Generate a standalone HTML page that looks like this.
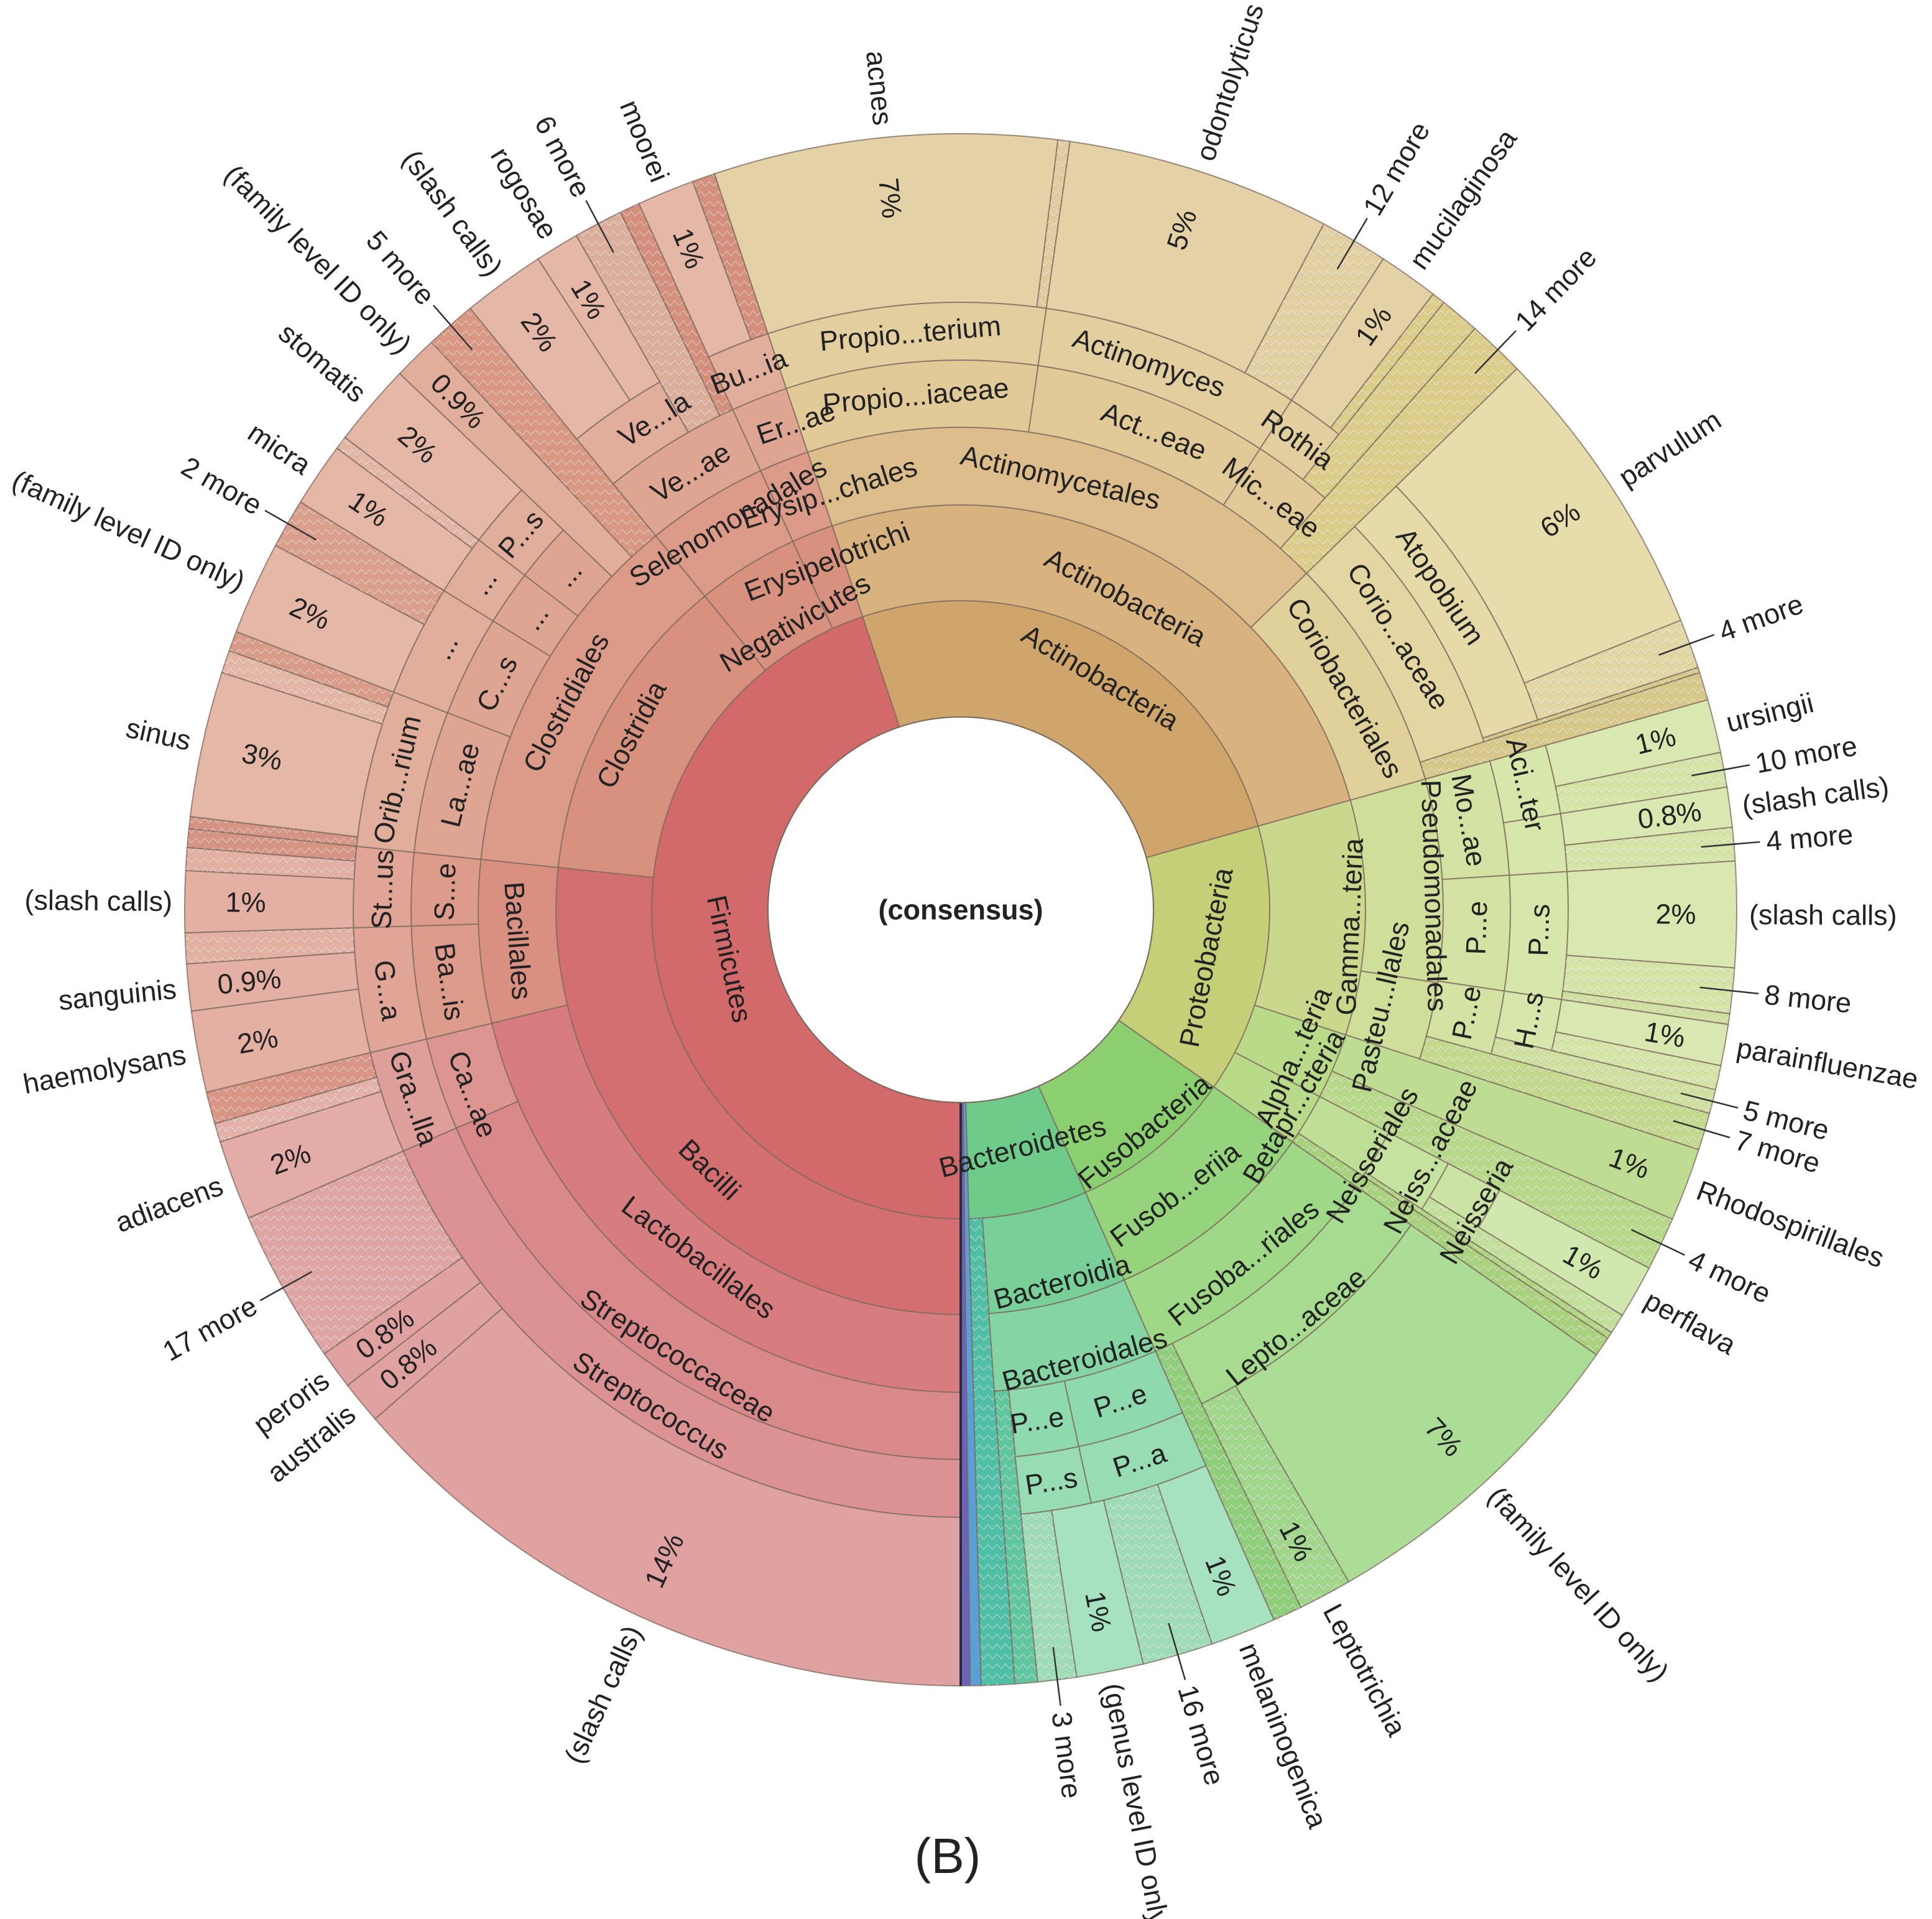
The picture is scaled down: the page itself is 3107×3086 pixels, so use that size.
<!DOCTYPE html>
<html><head><meta charset="utf-8">
<style>
html,body{margin:0;padding:0;background:#fff;}
svg{display:block;}
text{font-family:"Liberation Sans",Arial,sans-serif;fill:#222;}
</style></head>
<body>
<svg id="s" width="3107" height="3086" viewBox="0 0 3107 3086" xmlns="http://www.w3.org/2000/svg">
<defs>
<pattern id="h" width="28" height="16" patternUnits="userSpaceOnUse">
<path d="M0 12 L7 4 L14 12 L21 4 L28 12" fill="none" stroke="rgba(255,255,255,0.3)" stroke-width="2"/>
<path d="M0 14 L7 6 L14 14 L21 6 L28 14" fill="none" stroke="rgba(120,100,80,0.12)" stroke-width="1.5"/>
</pattern>
</defs>
<g id="wedges"></g>
<g id="labels"></g>
<circle cx="1545" cy="1463" r="310" fill="#fff" stroke="#7a6a5e" stroke-width="2"/>
<text x="1545" y="1463" font-size="45" font-weight="bold" text-anchor="middle" dominant-baseline="central">(consensus)</text>
<text x="1524" y="3012" font-size="80" text-anchor="middle">(B)</text>
</svg>
<script>
(function(){
var cx=1545,cy=1463,R=[310,497,651,776,884,977,1248],RO=1248,FS=45;
var NS="http://www.w3.org/2000/svg";
var gw=document.getElementById('wedges'),gl=document.getElementById('labels');
function pt(a,r){var t=a*Math.PI/180;return [cx+r*Math.sin(t),cy-r*Math.cos(t)];}
function f(p){return p[0].toFixed(1)+' '+p[1].toFixed(1);}
function path(a0,a1,r0,r1){var lg=(a1-a0)>180?1:0;
return 'M'+f(pt(a0,r1))+' A'+r1+' '+r1+' 0 '+lg+' 1 '+f(pt(a1,r1))+' L'+f(pt(a1,r0))+' A'+r0+' '+r0+' 0 '+lg+' 0 '+f(pt(a0,r0))+' Z';}
function norm(a){return ((a%360)+360)%360;}
function el(tag,attrs,par,txt){var e=document.createElementNS(NS,tag);for(var k in attrs)e.setAttribute(k,attrs[k]);if(txt!==undefined)e.textContent=txt;par.appendChild(e);return e;}
function tang(a,r,s){var p=pt(a,r),n=norm(a),rot=(n>90&&n<270)?n-180:n;
el('text',{x:0,y:0,'font-size':FS,'text-anchor':'middle','dominant-baseline':'central',transform:'translate('+p[0].toFixed(1)+','+p[1].toFixed(1)+') rotate('+rot.toFixed(2)+')'},gl,s);}
function rad(a,r,s,anchor){var p=pt(a,r),n=norm(a),rot=n<180?n-90:n+90;var an=anchor||(n<180?'start':'end');
el('text',{x:0,y:0,'font-size':FS,'text-anchor':an,'dominant-baseline':'central',transform:'translate('+p[0].toFixed(1)+','+p[1].toFixed(1)+') rotate('+rot.toFixed(2)+')'},gl,s);}
function N(l,a0,a1,c,lab,o){o=o||{};var leaf=o.leaf||l==5;var r0=R[l],r1=leaf?RO:R[l+1];var d=path(a0,a1,r0,r1);
el('path',{d:d,fill:c,stroke:'#7d6a5e','stroke-width':2,'stroke-opacity':0.75},gw);
if(o.h)el('path',{d:d,fill:'url(#h)',stroke:'none'},gw);
var m=(a0+a1)/2;
if(lab){tang(o.la!==undefined?o.la:m,o.lr||(R[l]+R[l+1])/2,lab);}
if(o.pct)rad(m,1150,o.pct,'middle');
if(o.name)rad(m,RO+20,o.name);
if(o.more){var ma=o.ma!==undefined?o.ma:m;var p1=pt(ma,1195),p2=pt(ma,1290);
el('line',{x1:p1[0],y1:p1[1],x2:p2[0],y2:p2[1],stroke:'#333','stroke-width':2.5},gl);rad(ma,1300,o.more);}
}
var F0='#d2696b',F2='#d77d7f',F3='#da898a',F4='#dc9293',F5='#e0a1a1';
var B2='#d99080',B3='#dd9b8b',B4='#e0a596',B5='#e4b0a3';
var C1='#d7917e',C2='#db9b88',C3='#dea592',C4='#e1ae9c',C5='#e4b7a6';
var A0='#d0a56c',A1='#d8b27f',A2='#ddbd8c',A3='#e2c998',A4='#e3cea0',A5='#e4d1a6';
var K2='#e0d09a',K3='#e3d6a2',K4='#e5daa8',K5='#e6dcac';
var P0='#c5cf77',P1='#cad88d',P2='#cfde99',P3='#d4e3a3',P4='#d7e6aa',P5='#d9e8b0';
var U0='#8ccf70',U1='#95d47c',U2='#9fd887',U3='#a7db90',U5='#abdd96';
var T0='#6ecb8a',T1='#78cf98',T2='#84d5a3',T3='#8ed9ad',T4='#97dcb3',T5='#a6e2c0';

// FIRMICUTES
N(0,180,341.5,F0,'Firmicutes',{la:258,lr:380});
N(1,180,276,'#d36f71','Bacilli',{la:224,lr:581});
N(1,276,320.8,C1,'Clostridia',{la:298,lr:600});
N(1,320.8,335.5,C1,'Negativicutes',{la:330,lr:533});
N(1,335.5,341.5,C1,'Erysipelotrichi',{la:339,lr:600});
N(2,180,256.4,F2,'Lactobacillales',{la:217,lr:700});
N(2,256.4,276,B2,'Bacillales',{la:266});
N(2,276,320.8,C2,'Clostridiales',{la:297.7,lr:717});
N(2,320.8,335.5,C2,'Selenomonadales',{la:329,lr:727});
N(2,335.5,341.5,C2,'Erysip...chales',{la:342.5,lr:703});
N(3,180,246.6,F3,'Streptococcaceae',{la:212.4,lr:849});
N(3,246.6,256.4,'#dc9590','Ca...ae',{la:249.3,lr:839});
N(3,256.4,268.3,B3,'Ba...is',{la:262});
N(3,268.3,276,B3,'S...e',{la:272});
N(3,276,291,C3,'La...ae',{la:284});
N(3,291,301.7,C3,'C...s',{la:296});
N(3,301.7,307.5,C3,'...',{la:304.5});
N(3,307.5,313.7,C3,'...',{la:310.6});
N(3,313.7,317,C4,'',{leaf:1,name:'(family level ID only)',pct:'0.9%'});
N(3,317,320.8,'#d99884','',{leaf:1,h:1,more:'5 more'});
N(3,320.8,335.5,C3,'Ve...ae',{la:328.3,lr:827});
N(3,335.5,341.5,C3,'Er...ae',{la:341.3,lr:827});
N(4,180,246.6,F4,'Streptococcus',{la:212,lr:940});
N(4,246.6,256.4,'#de9f9a','Gra...lla',{la:251});
N(4,256.4,268.3,B4,'G...a',{la:262});
N(4,268.3,276,B4,'St...us',{la:272});
N(4,276,291,C4,'Orib...rium',{la:283});
N(4,291,301.7,C4,'...',{la:297});
N(4,301.7,307.5,C4,'...',{la:304.5});
N(4,307.5,313.7,C4,'P...s',{la:310.5});
N(4,320.8,330.3,C4,'Ve...la',{la:328});
N(4,330.3,334,'#dcae9c','',{leaf:1,h:1,more:'6 more'});
N(4,334,335.5,'#d4907d','',{leaf:1,h:1});
N(4,335.5,341.5,C4,'Bu...ia',{la:338.5});
N(5,180,229,F5,'',{name:'(slash calls)',pct:'14%'});
N(5,229,232.2,F5,'',{name:'australis',pct:'0.8%'});
N(5,232.2,235.1,F5,'',{name:'peroris',pct:'0.8%'});
N(5,235.1,246.6,'#dea5a3','',{h:1,more:'17 more'});
N(5,246.6,252.6,'#e3aca6','',{name:'adiacens',pct:'2%'});
N(5,252.6,254,'#e3b3aa','',{h:1});
N(5,254,256.4,'#d99585','',{h:1});
N(5,256.4,262.5,B5,'',{name:'haemolysans',pct:'2%'});
N(5,262.5,266,B5,'',{name:'sanguinis',pct:'0.9%'});
N(5,266,268.3,'#e3b1a4','',{h:1});
N(5,268.3,272.9,B5,'',{name:'(slash calls)',pct:'1%'});
N(5,272.9,274.6,'#e3b1a4','',{h:1});
N(5,274.6,276,'#d69584','',{h:1});
N(5,276,276.9,'#d69584','',{h:1});
N(5,276.9,287.8,C5,'',{name:'sinus',pct:'3%'});
N(5,287.8,289.5,'#e4b6a6','',{h:1});
N(5,289.5,291,'#d99c89','',{h:1});
N(5,291,298,C5,'',{name:'(family level ID only)',pct:'2%'});
N(5,298,301.7,'#dba08d','',{h:1,more:'2 more'});
N(5,301.7,306.5,C5,'',{name:'micra',pct:'1%'});
N(5,306.5,307.5,'#e4b6a6','',{h:1});
N(5,307.5,313.7,C5,'',{name:'stomatis',pct:'2%'});
N(5,320.8,327,C5,'',{name:'(slash calls)',pct:'2%'});
N(5,327,330.3,C5,'',{name:'rogosae',pct:'1%'});
N(5,335.5,339.8,C5,'',{name:'moorei',pct:'1%'});
N(5,339.8,341.5,'#d4907d','',{h:1});

// ACTINOBACTERIA
N(0,-18.5,74.3,A0,'Actinobacteria',{la:31,lr:436});
N(1,-18.5,74.3,A1,'Actinobacteria',{la:27.8,lr:568});
N(2,-18.5,45.8,A2,'Actinomycetales',{la:13});
N(2,45.8,74.3,K2,'Coriobacteriales',{la:60});
N(3,-18.5,8.1,A3,'Propio...iaceae',{la:-5});
N(3,8.1,33,A3,'Act...eae',{la:22});
N(3,33,41.5,A3,'Mic...eae',{la:37});
N(3,41.5,45.8,'#dccd8a','',{leaf:1,h:1,more:'14 more',ma:43.8});
N(3,45.8,72.2,K3,'Corio...aceae',{la:58});
N(3,72.2,74.3,'#d8c98a','',{leaf:1,h:1});
N(4,-18.5,8.1,A4,'Propio...terium',{la:-5});
N(4,8.1,33,A4,'Actinomyces',{la:19});
N(4,33,38.5,A4,'Rothia',{la:35.6});
N(4,38.5,41.5,'#dccd8a','',{leaf:1,h:1});
N(4,45.8,71.8,K4,'Atopobium',{la:56});
N(4,71.8,72.2,'#d8c98a','',{leaf:1,h:1});
N(5,-18.5,7.2,A5,'',{name:'acnes',pct:'7%'});
N(5,7.2,8.1,'#e0cc9f','',{h:1});
N(5,8.1,27.9,A5,'',{name:'odontolyticus',pct:'5%'});
N(5,27.9,33,'#e2d0a2','',{h:1,more:'12 more'});
N(5,33,37.5,A5,'',{name:'mucilaginosa',pct:'1%'});
N(5,37.5,38.5,'#dccd8a','',{h:1});
N(5,45.8,68.1,K5,'',{name:'parvulum',pct:'6%'});
N(5,68.1,71.8,'#e3d7a5','',{h:1,more:'4 more'});

// PROTEOBACTERIA
N(0,74.3,125,P0,'Proteobacteria',{la:101,lr:402});
N(1,74.3,108,P1,'Gamma...teria',{la:92.5,lr:626});
N(1,108,117.5,'#b9da88','Alpha...teria',{la:113.9,lr:585});
N(1,117.5,125,'#b9da88','Betapr...cteria',{la:120.6,lr:622});
N(2,74.3,98.7,P2,'Pseudomonadales',{la:88.3,lr:762});
N(2,98.7,108,P2,'Pasteu...llales',{la:103,lr:693});
N(2,108,113.5,'#bfdd92','',{leaf:1,name:'Rhodospirillales',pct:'1%'});
N(2,113.5,117.5,'#b8d98a','',{leaf:1,h:1,more:'4 more'});
N(2,117.5,123.5,'#c0df96','Neisseriales',{la:120.8,lr:770});
N(2,123.5,125,'#a9d27e','',{leaf:1,h:1});
N(3,74.3,86.4,P3,'Mo...ae',{la:80});
N(3,86.4,98.5,P3,'P...e',{la:92});
N(3,98.5,105.2,P3,'P...e',{la:101.5});
N(3,105.2,108,'#c3d98e','',{leaf:1,h:1,more:'7 more',ma:106.5});
N(3,117.5,123,'#c6e29f','Neiss...aceae',{la:117.7,lr:853});
N(3,123,123.5,'#b0d684','',{leaf:1,h:1});
N(4,74.3,80.9,P4,'Aci...ter',{la:77.5});
N(4,80.9,86.4,P4,'',{});
N(4,86.4,98.5,P4,'P...s',{la:92});
N(4,98.5,103.4,P4,'H...s',{la:101});
N(4,103.4,105.2,'#cfe0a0','',{leaf:1,h:1,more:'5 more',ma:104.3});
N(4,117.5,121.5,'#cbe4a6','Neisseria',{la:120.3,lr:960});
N(4,121.5,123,'#c3df9c','',{leaf:1,h:1});
N(5,74.3,78.3,P5,'',{name:'ursingii',pct:'1%'});
N(5,78.3,80.9,'#d5e5a8','',{h:1,more:'10 more'});
N(5,80.9,83.9,P5,'',{name:'(slash calls)',pct:'0.8%'});
N(5,83.9,86.4,'#d5e5a8','',{h:1,more:'4 more'});
N(5,86.4,94.3,P5,'',{name:'(slash calls)',pct:'2%'});
N(5,94.3,97.7,'#d5e5a8','',{h:1,more:'8 more'});
N(5,97.7,98.5,'#cfe0a0','',{h:1});
N(5,98.5,101.6,P5,'',{name:'parainfluenzae',pct:'1%'});
N(5,101.6,103.4,'#d5e5a8','',{h:1});
N(5,117.5,121.5,'#d0e8ae','',{name:'perflava',pct:'1%'});

// FUSOBACTERIA
N(0,125,156.2,U0,'Fusobacteria',{la:140.4,lr:463});
N(1,125,156.2,U1,'Fusob...eriia',{la:143,lr:573});
N(2,125,156.2,U2,'Fusoba...riales',{la:141.3,lr:727});
N(3,125,154,U3,'Lepto...aceae',{la:141.2,lr:860});
N(3,154,156.2,'#8fcf7c','',{leaf:1,h:1});
N(4,125,150,U5,'',{leaf:1,name:'(family level ID only)',pct:'7%'});
N(4,150,154,'#a0d78c','',{leaf:1,h:1,name:'Leptotrichia',pct:'1%'});

// BACTEROIDETES
N(0,156.2,178.5,T0,'Bacteroidetes',{la:165.4,lr:394});
N(1,156.2,176,T1,'Bacteroidia',{la:164.8,lr:620});
N(1,176,178.5,'#4fbfa6','',{leaf:1,h:1});
N(2,156.2,176,T2,'Bacteroidales',{la:164.6,lr:750});
N(3,156.2,167.6,T3,'P...e',{la:162});
N(3,167.6,174.3,T3,'P...e',{la:171.5});
N(3,174.3,176,'#5fc6a0','',{leaf:1,h:1});
N(4,156.2,167.6,T4,'P...a',{la:162});
N(4,167.6,174.3,T4,'P...s',{la:171});
N(5,156.2,161.1,T5,'',{name:'melaninogenica',pct:'1%'});
N(5,161.1,166.4,'#9edcb8','',{h:1,more:'16 more'});
N(5,166.4,171.4,T5,'',{name:'(genus level ID only)',pct:'1%'});
N(5,171.4,174.3,'#9edcb8','',{h:1,more:'3 more'});
N(0,178.5,179.3,'#5a9fd6','',{leaf:1});
N(0,179.3,180,'#6a64b8','',{leaf:1});
var a=pt(180,310),b=pt(180,RO);
el('line',{x1:a[0],y1:a[1],x2:b[0],y2:b[1],stroke:'#2a2a40','stroke-width':4},gw);
})();
</script>
</body></html>
